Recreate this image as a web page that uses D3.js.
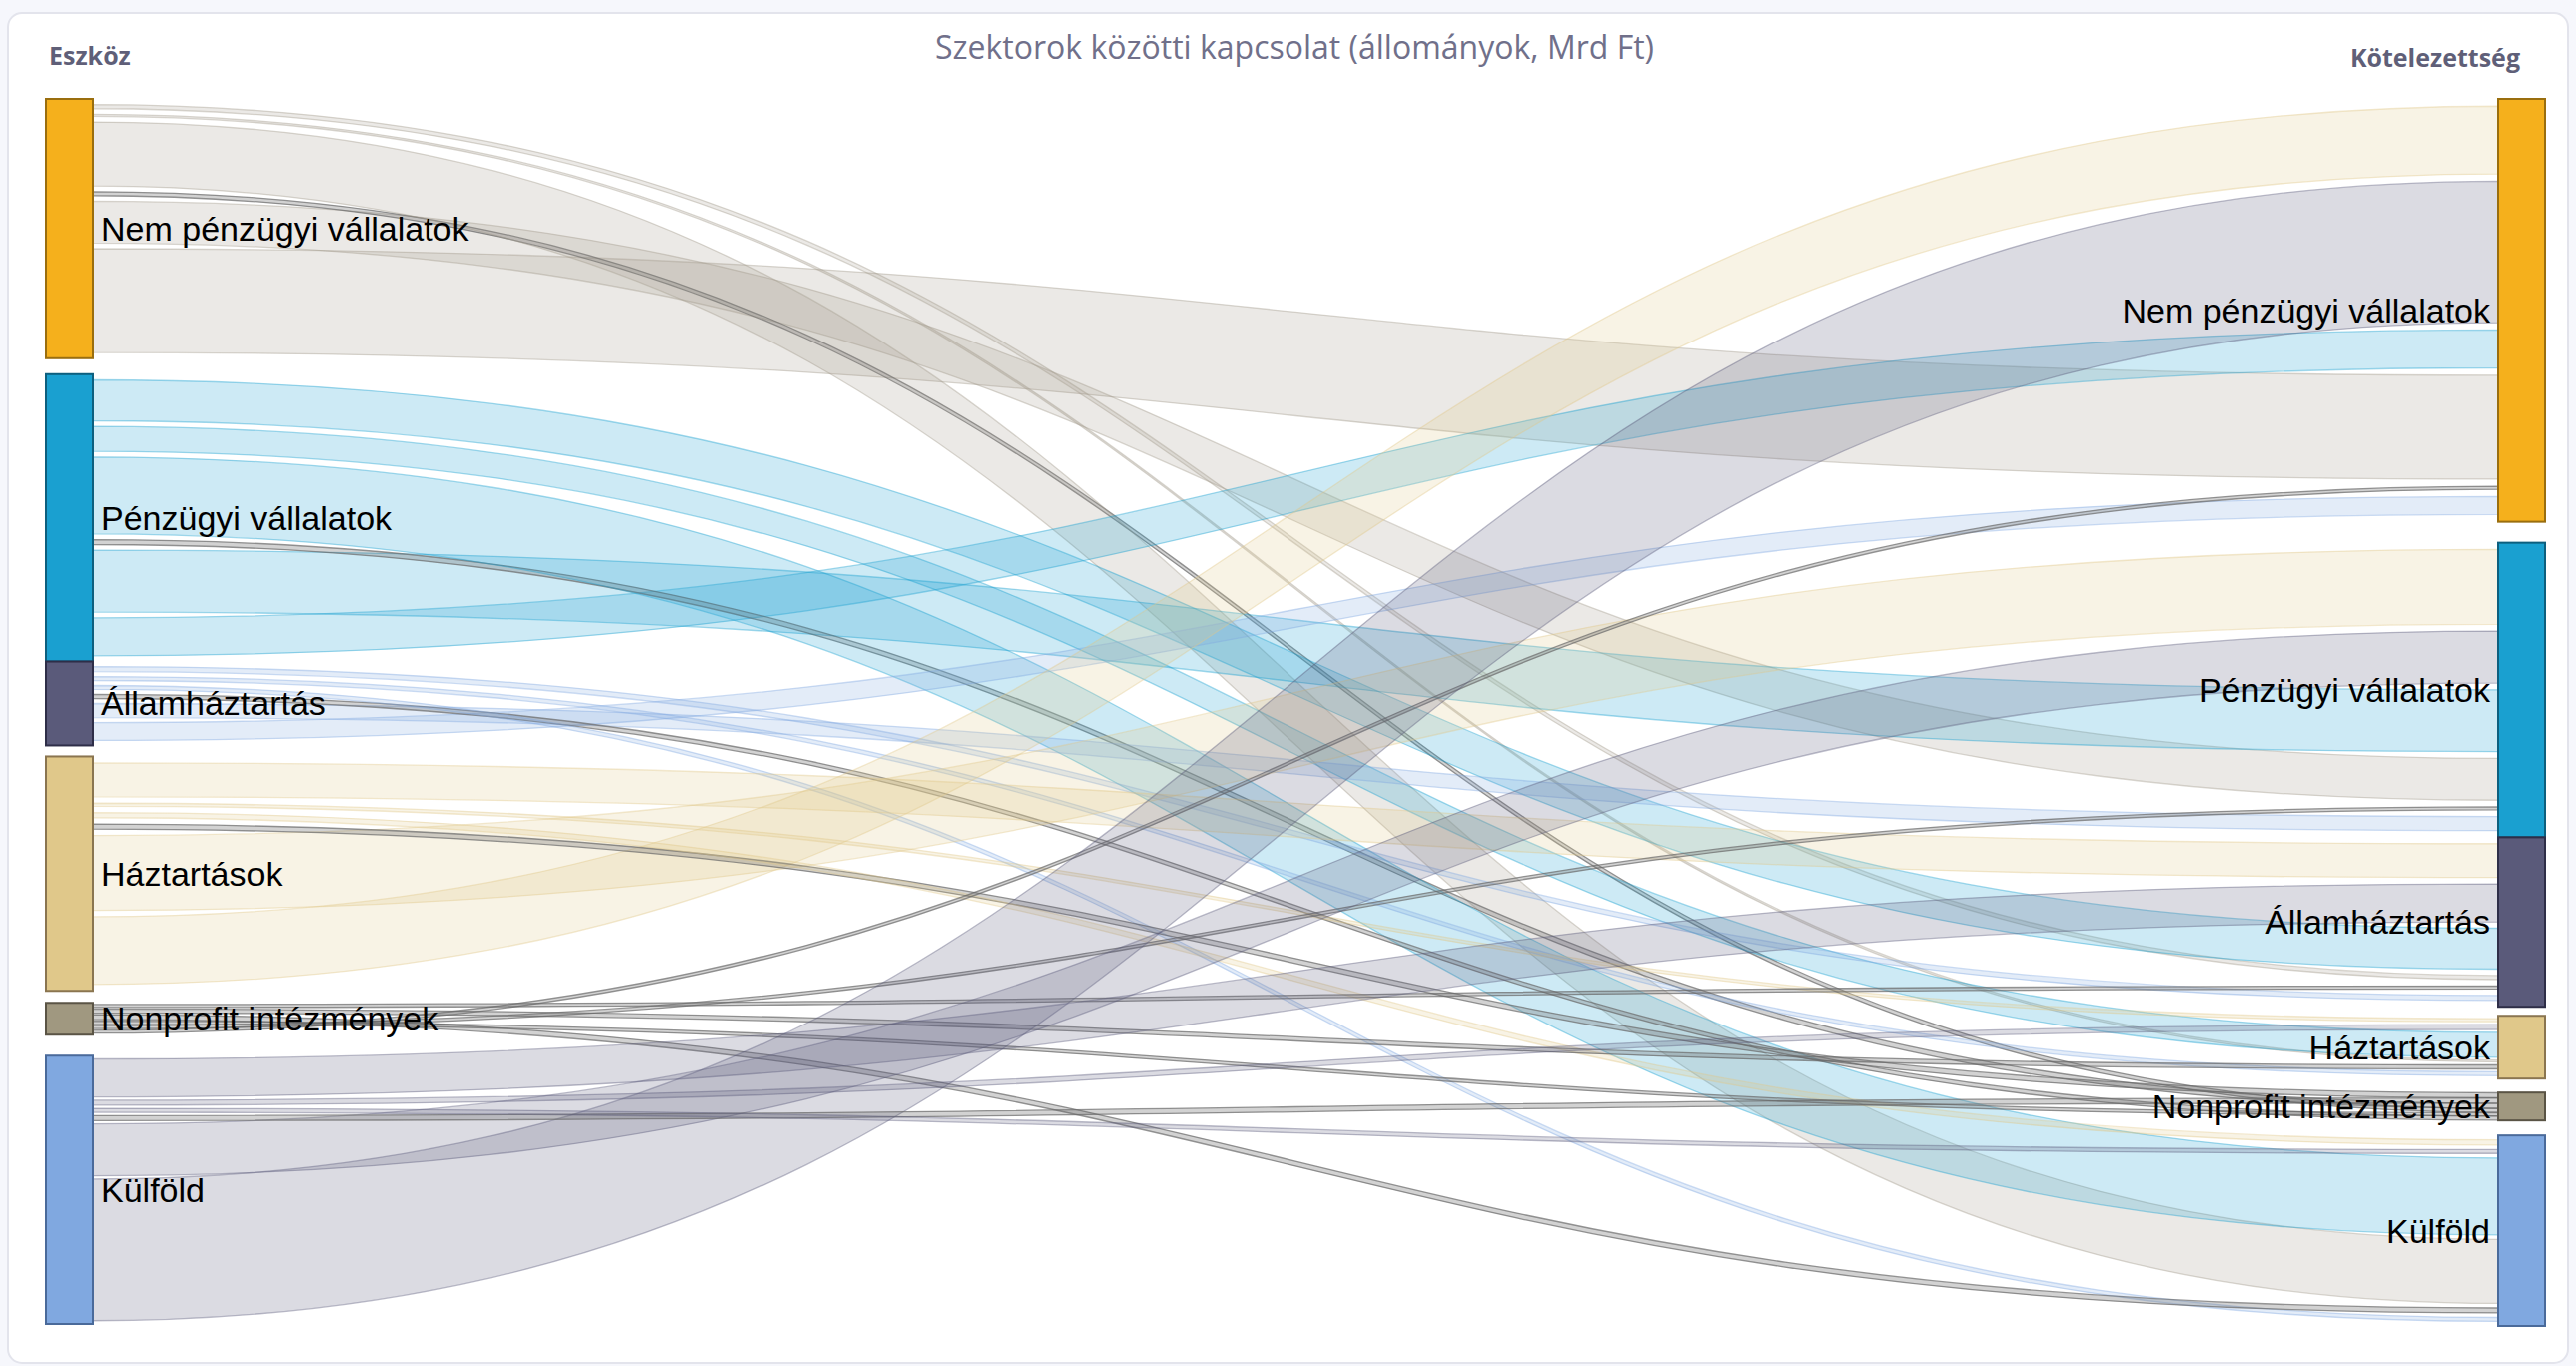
<!DOCTYPE html>
<html>
<head>
<meta charset="utf-8">
<script src="https://cdn.jsdelivr.net/npm/d3@7"></script>
<style>
  html, body { margin: 0; padding: 0; background: #f6f7fc; }
  svg { display: block; }
</style>
</head>
<body>
<div id="chart"></div>
<script>
// Size of the page
const width = 2579;
const height = 1368;

// Sectors (same order on both sides)
const sectors = ["Nem pénzügyi vállalatok", "Pénzügyi vállalatok", "Államháztartás",
                 "Háztartások", "Nonprofit intézmények", "Külföld"];
const sectorColors = ["#f5b01c", "#1aa0d0", "#5a5a7a", "#e0c88a", "#a09880", "#80a8e0"];
const sectorBorders = ["#9a6e0e", "#0d5f7e", "#2e2e48", "#8a7550", "#5a5445", "#4a6a9a"];
// link colour by holder sector
const linkColors = ["#a29c8c", "#1aa0d0", "#80a8e0", "#e0c88a", "#6a6a6a", "#5a5a7a"];

// Totals (Mrd Ft)
const assetTotals = [65000, 72000, 21000, 58750, 8000, 67250];
const liabilityTotals = [106000, 73750, 42500, 15750, 7000, 47750];

// Holdings of each sector against the issuers [NPV, PV, Áht, HH, NP, Külföld] (Mrd Ft)
const fromNemPenzugyi = [26050, 10480, 1020, 480, 980, 16040];
const fromPenzugyi    = [9520, 15480, 10260, 6240, 1230, 19270];
const fromAllam       = [4480, 3520, 1260, 980, 1010, 990];
const fromHaztartas   = [16980, 18760, 8490, 760, 1240, 1270];
const fromNonprofit   = [760, 740, 770, 1010, 760, 1240];
const fromKulfold     = [35480, 13020, 9520, 1240, 1260, 990];
const holdings = [fromNemPenzugyi, fromPenzugyi, fromAllam, fromHaztartas, fromNonprofit, fromKulfold];

// order of the ribbons inside a node
const sourceSideOrder = [2, 3, 5, 4, 1, 0];
const targetSideOrder = [3, 5, 1, 0, 4, 2];

const title = "Szektorok közötti kapcsolat (állományok, Mrd Ft)";

// Layout
const topY = 99, bottomY = 1329;
const nodeW = 47, leftX = 46, rightX = 2501;
// spacing between the nodes of a column
const leftGaps = [16, 0, 11, 12, 21];
const rightGaps = [21, 0, 9, 14, 15];
const NP = 4;

const maxTotal = Math.max(d3.sum(assetTotals), d3.sum(liabilityTotals));
const y = d3.scaleLinear()
  .domain([0, maxTotal])
  .range([0, bottomY - topY - Math.max(d3.sum(leftGaps), d3.sum(rightGaps))]);

function stack(totals, gaps, x, side) {
  let cur = topY;
  return totals.map(function(v, i) {
    const n = { i: i, side: side, name: sectors[i], x0: x, x1: x + nodeW, y0: cur, y1: cur + y(v) };
    cur = n.y1 + (gaps[i] || 0);
    return n;
  });
}
const leftNodes = stack(assetTotals, leftGaps, leftX, "left");
const rightNodes = stack(liabilityTotals, rightGaps, rightX, "right");

// links
const links = [];
holdings.forEach(function(row, s) {
  row.forEach(function(v, t) {
    links.push({ s: s, t: t, value: v, w: y(v) });
  });
});

// place ribbons inside the nodes
function place(nodes, key, order, y0key, y1key) {
  nodes.forEach(function(n) {
    const own = links.filter(l => l[key] === n.i);
    own.sort((a, b) => order.indexOf(key === "s" ? a.t : a.s) - order.indexOf(key === "s" ? b.t : b.s));
    const used = d3.sum(own, l => l.w);
    const gap = (n.y1 - n.y0 - used) / (own.length + 1);
    let cur = n.y0 + gap;
    own.forEach(function(l) {
      l[y0key] = cur;
      l[y1key] = cur + l.w;
      cur += l.w + gap;
    });
  });
}
place(leftNodes, "s", sourceSideOrder, "sy0", "sy1");
place(rightNodes, "t", targetSideOrder, "ty0", "ty1");

function ribbon(l) {
  const x0 = leftX + nodeW - 2, x1 = rightX + 2, xm = (x0 + x1) / 2;
  const p = d3.path();
  p.moveTo(x0, l.sy0);
  p.bezierCurveTo(xm, l.sy0, xm, l.ty0, x1, l.ty0);
  p.lineTo(x1, l.ty1);
  p.bezierCurveTo(xm, l.ty1, xm, l.sy1, x0, l.sy1);
  p.closePath();
  return p.toString();
}

function isNonprofit(l) { return l.s === NP || l.t === NP; }
function linkColor(l) {
  return isNonprofit(l) ? linkColors[NP] : linkColors[l.s];
}

const svg = d3.select("#chart").append("svg")
  .attr("width", width)
  .attr("height", height);

// card
svg.append("rect")
  .attr("x", 8).attr("y", 13)
  .attr("width", width - 16).attr("height", height - 16)
  .attr("rx", 14)
  .attr("fill", "#ffffff")
  .attr("stroke", "#e3e4ec")
  .attr("stroke-width", 2);

svg.append("text")
  .attr("x", 1296).attr("y", 46)
  .attr("text-anchor", "middle")
  .attr("dominant-baseline", "central")
  .style("font-family", "'Open Sans', sans-serif")
  .style("font-size", "32px")
  .style("fill", "#70708a")
  .text(title);

svg.append("text")
  .attr("x", 49).attr("y", 55)
  .attr("dominant-baseline", "central")
  .style("font-family", "'Open Sans', sans-serif")
  .style("font-weight", "700")
  .style("font-size", "25px")
  .style("fill", "#5f5f78")
  .text("Eszköz");

svg.append("text")
  .attr("x", 2523).attr("y", 57)
  .attr("text-anchor", "end")
  .attr("dominant-baseline", "central")
  .style("font-family", "'Open Sans', sans-serif")
  .style("font-weight", "700")
  .style("font-size", "25px")
  .style("fill", "#5f5f78")
  .text("Kötelezettség");

// Ribbons
svg.append("g")
  .selectAll("path")
  .data(links).enter()
  .append("path")
  .attr("d", ribbon)
  .attr("fill", d => linkColor(d))
  .attr("fill-opacity", d => isNonprofit(d) ? 0.3 : 0.22)
  .attr("stroke", d => linkColor(d))
  .attr("stroke-opacity", d => isNonprofit(d) ? 0.7 : 0.4)
  .attr("stroke-width", 1.3);

// Nodes
const allNodes = leftNodes.concat(rightNodes);
svg.append("g")
  .selectAll("rect")
  .data(allNodes).enter()
  .append("rect")
  .attr("x", d => d.x0)
  .attr("y", d => d.y0)
  .attr("width", nodeW)
  .attr("height", d => d.y1 - d.y0)
  .attr("fill", d => sectorColors[d.i])
  .attr("stroke", d => sectorBorders[d.i])
  .attr("stroke-width", 2);

// Labels
svg.append("g")
  .selectAll("text")
  .data(allNodes).enter()
  .append("text")
  .attr("x", d => d.side === "left" ? d.x1 + 8 : d.x0 - 8)
  .attr("y", d => (d.y0 + d.y1) / 2)
  .attr("text-anchor", d => d.side === "left" ? "start" : "end")
  .attr("dominant-baseline", "central")
  .style("font-family", "'Liberation Sans', Arial, sans-serif")
  .style("font-size", "34px")
  .style("fill", "#000")
  .text(d => d.name);
</script>
</body>
</html>
